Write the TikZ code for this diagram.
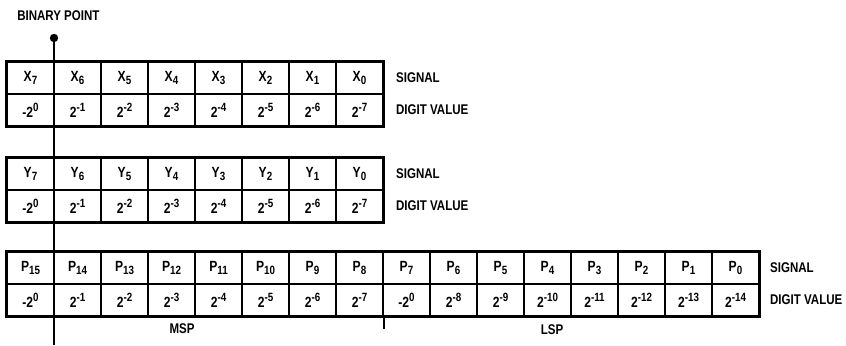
\documentclass[tikz,border=0pt]{standalone}
\usepackage{fontspec}
\newfontfamily\regfont[FakeStretch=0.82]{Liberation Sans}
\newcommand{\dn}[1]{\raisebox{-0.35ex}{\fontsize{8.5}{9}\selectfont #1}}
\newcommand{\up}[1]{\raisebox{0.75ex}{\fontsize{8.5}{9}\selectfont #1}}
\usetikzlibrary{positioning, calc}

\begin{document}
\begin{tikzpicture}[
    x=0.025cm, y=-0.025cm,
    cell/.style={rectangle, draw, line width=1.2pt, minimum width=1.175cm, minimum height=0.8cm, inner sep=0pt, font=\regfont\bfseries\fontsize{10.5}{12}\selectfont},
    frame/.style={line width=2.2pt},
    rowlabel/.style={inner sep=0pt, font=\regfont\bfseries},
    dot/.style={circle, fill, inner sep=0pt, minimum size=0.21cm},
    pointline/.style={line width=2pt}
]
    \useasboundingbox (0,0) rectangle (846,345);

    % Register X
    \foreach \i in {0,...,7} {
        \pgfmathtruncatemacro{\n}{7-\i}
        \ifnum\i=0 \def\dv{-2\up{0}}\else \def\dv{2\up{-\i}}\fi
        \node [cell] (x\n) at (30.5+47*\i, 78) {X\dn{\n}};
        \node [cell] (xv\n) at (30.5+47*\i, 110) {\dv};
    }
    \draw [frame] (x7.north west) rectangle (xv0.south east);
    \node [rowlabel, right=0.3cm of x0] (xsig) {SIGNAL};
    \node [rowlabel, right=0.3cm of xv0] (xdig) {DIGIT VALUE};

    % Register Y
    \foreach \i in {0,...,7} {
        \pgfmathtruncatemacro{\n}{7-\i}
        \ifnum\i=0 \def\dv{-2\up{0}}\else \def\dv{2\up{-\i}}\fi
        \node [cell] (y\n) at (30.5+47*\i, 174) {Y\dn{\n}};
        \node [cell] (yv\n) at (30.5+47*\i, 206) {\dv};
    }
    \draw [frame] (y7.north west) rectangle (yv0.south east);
    \node [rowlabel, right=0.3cm of y0] (ysig) {SIGNAL};
    \node [rowlabel, right=0.3cm of yv0] (ydig) {DIGIT VALUE};

    % Product P
    \foreach \i in {0,...,15} {
        \pgfmathtruncatemacro{\n}{15-\i}
        \pgfmathtruncatemacro{\e}{\i<8 ? \i : \i-1}
        \ifnum\i=0 \def\dv{-2\up{0}}\else
            \ifnum\i=8 \def\dv{-2\up{0}}\else \def\dv{2\up{-\e}}\fi\fi
        \node [cell] (p\n) at (30.5+47*\i, 268) {P\dn{\n}};
        \node [cell] (pv\n) at (30.5+47*\i, 300) {\dv};
    }
    \draw [frame] (p15.north west) rectangle (pv0.south east);
    \node [rowlabel, right=0.25cm of p0] (psig) {SIGNAL};
    \node [rowlabel, right=0.25cm of pv0] (pdig) {DIGIT VALUE};

    % MSP / LSP split
    \coordinate (tickend) at ($(pv8.south east)+(0,12)$);
    \draw [line width=1pt] (pv8.south east) -- (tickend);
    \node [rowlabel] (msp) at (182, 329) {MSP};
    \node [rowlabel] (lsp) at (552, 330) {LSP};

    % Binary point
    \node [rowlabel, anchor=west] (bptext) at (17, 16) {BINARY POINT};
    \node [dot] (bp) at (54, 38) {};
    \coordinate (bpend) at (54, 345);
    \draw [pointline] (bp.center) -- (bpend);

\end{tikzpicture}
\end{document}
